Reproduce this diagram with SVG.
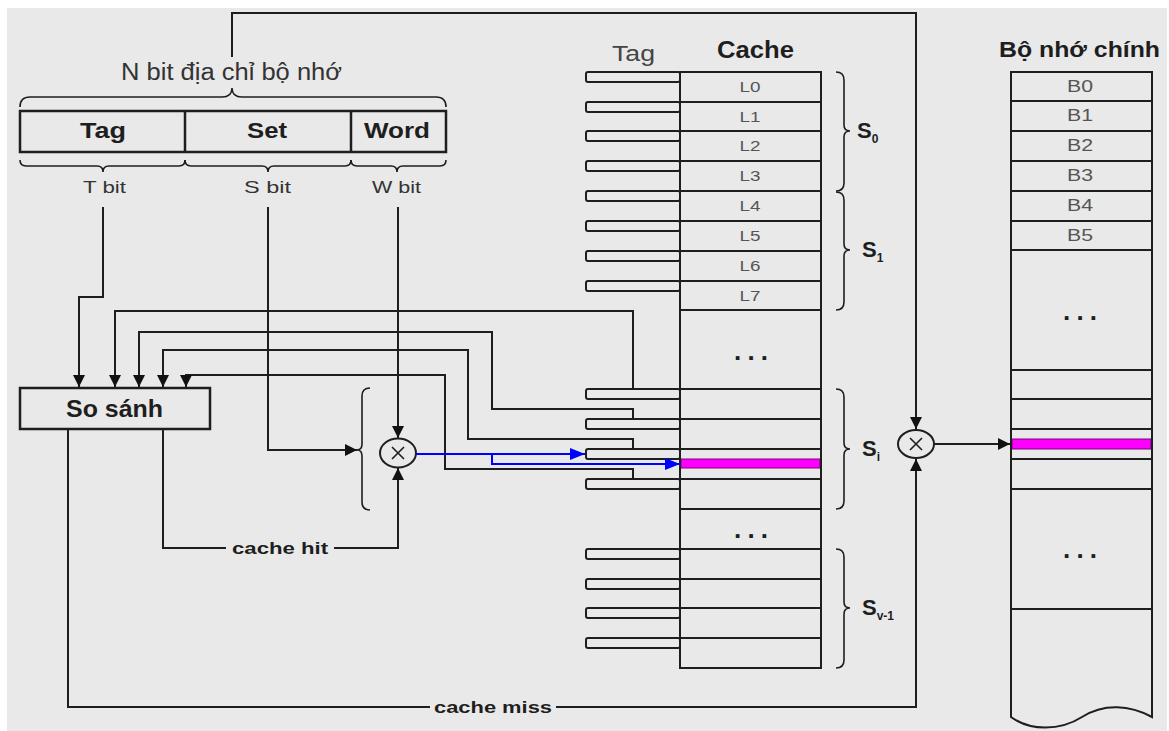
<svg xmlns="http://www.w3.org/2000/svg" width="1169" height="731" viewBox="0 0 1169 731">
<style>
text{font-family:"Liberation Sans",Arial,sans-serif;fill:#1e1e1e}
.b{font-weight:bold}
.ln{fill:none;stroke:#1e1e1e;stroke-width:2}
.br{fill:none;stroke:#1e1e1e;stroke-width:1.6}
.bl{fill:none;stroke:#0000ff;stroke-width:2}
.slot{fill:none;stroke:#1e1e1e;stroke-width:2}
.lab{font-size:14px;fill:#555}
.blab{font-size:16px;fill:#555}
.dots{font-size:26px;font-weight:bold}
.mag{fill:#ff00ff;stroke:#7a007a;stroke-width:1}
.sl{font-size:22px;font-weight:bold}
.sub{font-size:12px}
</style>
<defs>
<marker id="ah" markerWidth="13" markerHeight="12" refX="12" refY="6" orient="auto" markerUnits="userSpaceOnUse"><path d="M0,0 L12,6 L0,12 z" fill="#111"/></marker>
<marker id="ahb" markerWidth="16" markerHeight="12" refX="15" refY="6" orient="auto" markerUnits="userSpaceOnUse"><path d="M0,0 L15,6 L0,12 z" fill="#0000ff"/></marker>
</defs>
<rect x="0" y="0" width="1169" height="731" fill="#ffffff"/>
<rect x="7" y="8" width="1160" height="723" fill="#e9e9e9"/>

<g id="address">
<text x="231.5" y="80" font-size="23" textLength="221" lengthAdjust="spacingAndGlyphs" text-anchor="middle" style="fill:#333">N bit địa chỉ bộ nhớ</text>
<path class="br" d="M20,107 Q20,97 30,97 H222 Q232,97 232,88 Q232,97 242,97 H436 Q446,97 446,107"/>
<rect x="20" y="111" width="426" height="41" fill="none" stroke="#1e1e1e" stroke-width="2.5"/>
<line x1="185" y1="111" x2="185" y2="152" stroke="#1e1e1e" stroke-width="2.5"/>
<line x1="351" y1="111" x2="351" y2="152" stroke="#1e1e1e" stroke-width="2.5"/>
<text class="b" x="103" y="138" font-size="22" textLength="46" lengthAdjust="spacingAndGlyphs" text-anchor="middle">Tag</text>
<text class="b" x="267" y="138" font-size="22" textLength="40" lengthAdjust="spacingAndGlyphs" text-anchor="middle">Set</text>
<text class="b" x="397" y="138" font-size="22" textLength="66" lengthAdjust="spacingAndGlyphs" text-anchor="middle">Word</text>
<path class="br" d="M20,160 Q20,166 26,166 H97 Q103,166 103,172 Q103,166 109,166 H179 Q185,166 185,160"/>
<path class="br" d="M185,160 Q185,166 191,166 H262 Q268,166 268,172 Q268,166 274,166 H345 Q351,166 351,160"/>
<path class="br" d="M351,160 Q351,166 357,166 H391 Q397,166 397,172 Q397,166 403,166 H440 Q446,166 446,160"/>
<text x="104.5" y="193" font-size="17" textLength="43" lengthAdjust="spacingAndGlyphs" text-anchor="middle" style="fill:#333">T bit</text>
<text x="267.5" y="193" font-size="17" textLength="47" lengthAdjust="spacingAndGlyphs" text-anchor="middle" style="fill:#333">S bit</text>
<text x="396.5" y="193" font-size="17" textLength="49" lengthAdjust="spacingAndGlyphs" text-anchor="middle" style="fill:#333">W bit</text>
</g>

<g id="so-sanh">
<rect x="20" y="388" width="190" height="41" fill="none" stroke="#1e1e1e" stroke-width="2.5"/>
<text class="b" x="114.5" y="417" font-size="24" textLength="97" lengthAdjust="spacingAndGlyphs" text-anchor="middle">So sánh</text>
</g>

<g id="mux-left">
<path class="br" d="M370,388 Q362,388 362,396 V444 Q362,450 357,450 Q362,450 362,456 V502 Q362,510 370,510"/>
<ellipse cx="398" cy="453" rx="18" ry="14.5" fill="none" stroke="#1e1e1e" stroke-width="2"/>
<path d="M392,447 L404,459 M404,447 L392,459" stroke="#1e1e1e" stroke-width="1.6" fill="none"/>
</g>

<g id="mux-right">
<ellipse cx="916" cy="444" rx="18" ry="14" fill="none" stroke="#1e1e1e" stroke-width="2"/>
<path d="M910,438 L922,450 M922,438 L910,450" stroke="#1e1e1e" stroke-width="1.6" fill="none"/>
</g>

<g id="cache">
<text x="633.5" y="61" font-size="22" textLength="43" lengthAdjust="spacingAndGlyphs" text-anchor="middle" style="fill:#444">Tag</text>
<text class="b" x="755.5" y="58" font-size="23" textLength="77" lengthAdjust="spacingAndGlyphs" text-anchor="middle">Cache</text>
<rect class="mag" x="681" y="459" width="139" height="9"/>
<rect x="680" y="72" width="141" height="596" fill="none" stroke="#1e1e1e" stroke-width="2"/>
<path class="ln" d="M680,102 H821 M680,131 H821 M680,161 H821 M680,191 H821 M680,221 H821 M680,251 H821 M680,281 H821 M680,310 H821 M680,389 H821 M680,419 H821 M680,449 H821 M680,479 H821 M680,509 H821 M680,549 H821 M680,579 H821 M680,608 H821 M680,638 H821"/>
<g class="slots">
<rect class="slot" x="586" y="72" width="94" height="10" rx="2"/>
<rect class="slot" x="586" y="102" width="94" height="10" rx="2"/>
<rect class="slot" x="586" y="131" width="94" height="10" rx="2"/>
<rect class="slot" x="586" y="161" width="94" height="10" rx="2"/>
<rect class="slot" x="586" y="191" width="94" height="10" rx="2"/>
<rect class="slot" x="586" y="221" width="94" height="10" rx="2"/>
<rect class="slot" x="586" y="251" width="94" height="10" rx="2"/>
<rect class="slot" x="586" y="281" width="94" height="10" rx="2"/>
<rect class="slot" x="586" y="389" width="94" height="10" rx="2"/>
<rect class="slot" x="586" y="419" width="94" height="10" rx="2"/>
<rect class="slot" x="586" y="449" width="94" height="10" rx="2"/>
<rect class="slot" x="586" y="479" width="94" height="10" rx="2"/>
<rect class="slot" x="586" y="549" width="94" height="10" rx="2"/>
<rect class="slot" x="586" y="579" width="94" height="10" rx="2"/>
<rect class="slot" x="586" y="608" width="94" height="10" rx="2"/>
<rect class="slot" x="586" y="638" width="94" height="10" rx="2"/>
</g>
<text class="lab" x="750" y="92" textLength="21" lengthAdjust="spacingAndGlyphs" text-anchor="middle">L0</text>
<text class="lab" x="750" y="121.5" textLength="21" lengthAdjust="spacingAndGlyphs" text-anchor="middle">L1</text>
<text class="lab" x="750" y="151" textLength="21" lengthAdjust="spacingAndGlyphs" text-anchor="middle">L2</text>
<text class="lab" x="750" y="181" textLength="21" lengthAdjust="spacingAndGlyphs" text-anchor="middle">L3</text>
<text class="lab" x="750" y="211" textLength="21" lengthAdjust="spacingAndGlyphs" text-anchor="middle">L4</text>
<text class="lab" x="750" y="241" textLength="21" lengthAdjust="spacingAndGlyphs" text-anchor="middle">L5</text>
<text class="lab" x="750" y="271" textLength="21" lengthAdjust="spacingAndGlyphs" text-anchor="middle">L6</text>
<text class="lab" x="750" y="300.5" textLength="21" lengthAdjust="spacingAndGlyphs" text-anchor="middle">L7</text>
<text class="dots" x="751" y="360" text-anchor="middle" textLength="34" lengthAdjust="spacing">. . .</text>
<text class="dots" x="751" y="538" text-anchor="middle" textLength="34" lengthAdjust="spacing">. . .</text>
<path class="br" d="M836,72 Q844,72 844,80 V125 Q844,131 850,131 Q844,131 844,137 V183 Q844,191 836,191"/>
<path class="br" d="M836,192 Q844,192 844,200 V244 Q844,250 850,250 Q844,250 844,256 V302 Q844,310 836,310"/>
<path class="br" d="M836,389 Q844,389 844,397 V443 Q844,449 850,449 Q844,449 844,455 V501 Q844,509 836,509"/>
<path class="br" d="M836,549 Q844,549 844,557 V602 Q844,608 850,608 Q844,608 844,614 V660 Q844,668 836,668"/>
<text class="sl" x="857" y="138">S<tspan class="sub" dy="5">0</tspan></text>
<text class="sl" x="862" y="257">S<tspan class="sub" dy="5">1</tspan></text>
<text class="sl" x="862" y="456">S<tspan class="sub" dy="5">i</tspan></text>
<text class="sl" x="862" y="615">S<tspan class="sub" dy="5">v-1</tspan></text>
</g>

<g id="main-memory">
<text class="b" x="1079.5" y="57" font-size="22" textLength="161" lengthAdjust="spacingAndGlyphs" text-anchor="middle">Bộ nhớ chính</text>
<rect class="mag" x="1012" y="439" width="139" height="10"/>
<path d="M1011,717 V72 H1152 V717 C1130,705 1104,703 1082,717 C1060,731 1030,731 1011,717 Z" fill="none" stroke="#1e1e1e" stroke-width="2"/>
<path class="ln" d="M1011,101 H1152 M1011,131 H1152 M1011,161 H1152 M1011,191 H1152 M1011,221 H1152 M1011,250 H1152 M1011,370 H1152 M1011,399 H1152 M1011,429 H1152 M1011,459 H1152 M1011,489 H1152 M1011,609 H1152"/>
<text class="blab" x="1080" y="92" textLength="26" lengthAdjust="spacingAndGlyphs" text-anchor="middle">B0</text>
<text class="blab" x="1080" y="121" textLength="26" lengthAdjust="spacingAndGlyphs" text-anchor="middle">B1</text>
<text class="blab" x="1080" y="151" textLength="26" lengthAdjust="spacingAndGlyphs" text-anchor="middle">B2</text>
<text class="blab" x="1080" y="181" textLength="26" lengthAdjust="spacingAndGlyphs" text-anchor="middle">B3</text>
<text class="blab" x="1080" y="211" textLength="26" lengthAdjust="spacingAndGlyphs" text-anchor="middle">B4</text>
<text class="blab" x="1080" y="240.5" textLength="26" lengthAdjust="spacingAndGlyphs" text-anchor="middle">B5</text>
<text class="dots" x="1080" y="320" text-anchor="middle" textLength="34" lengthAdjust="spacing">. . .</text>
<text class="dots" x="1080" y="558" text-anchor="middle" textLength="34" lengthAdjust="spacing">. . .</text>
</g>

<g id="connectors">
<path class="ln" d="M232,57 V13 H916 V429" marker-end="url(#ah)"/>
<path class="ln" d="M103,207 V297 H79 V387" marker-end="url(#ah)"/>
<path class="ln" d="M633,389 V311 H115 V387" marker-end="url(#ah)"/>
<path class="ln" d="M633,419 V409 H492 V332 H139 V387" marker-end="url(#ah)"/>
<path class="ln" d="M633,449 V439 H468 V350 H163 V387" marker-end="url(#ah)"/>
<path class="ln" d="M633,479 V469 H445 V375 H186 V387" marker-end="url(#ah)"/>
<path class="ln" d="M268,207 V450 H357" marker-end="url(#ah)"/>
<path class="ln" d="M398,207 V438" marker-end="url(#ah)"/>
<path class="ln" d="M163,429 V548 H226"/>
<path class="ln" d="M334,548 H398 V468" marker-end="url(#ah)"/>
<text class="b" x="280" y="554" font-size="16" textLength="96" lengthAdjust="spacingAndGlyphs" text-anchor="middle">cache hit</text>
<path class="ln" d="M68,429 V707 H430"/>
<path class="ln" d="M556,707 H916 V459" marker-end="url(#ah)"/>
<text class="b" x="493" y="713" font-size="16" textLength="118" lengthAdjust="spacingAndGlyphs" text-anchor="middle">cache miss</text>
<path class="ln" d="M934,444 H1010" marker-end="url(#ah)"/>
<path class="bl" d="M416,454 H585" marker-end="url(#ahb)"/>
<path class="bl" d="M492,454 V464 H680" marker-end="url(#ahb)"/>
</g>
</svg>
